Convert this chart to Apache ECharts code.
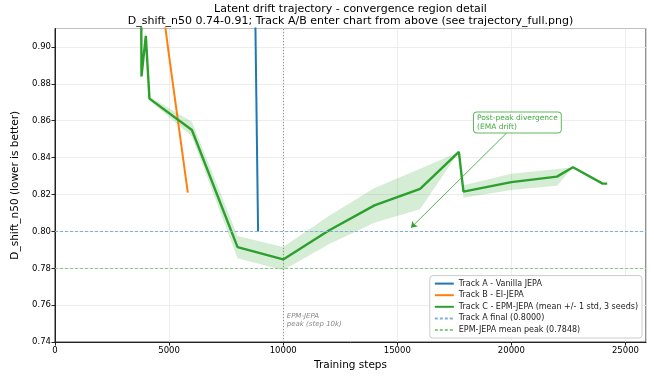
<!DOCTYPE html>
<html><head><meta charset="utf-8">
<script src="https://cdn.jsdelivr.net/npm/echarts@6/dist/echarts.min.js"></script>
<style>html,body{margin:0;padding:0;background:#fff}#c{width:654px;height:376px}</style>
</head><body><div id="c"></div>
<script>
// ---- data ----
const trackASteps = [8700, 8900];
const trackAValues = [0.990, 0.800];
const trackBSteps = [4000, 5000, 5820];
const trackBValues = [0.990, 0.895, 0.821];
const trackCSteps = [3770, 3790, 3980, 4140, 6000, 8000, 10000, 12000, 14000, 16000, 17700, 17900, 20000, 22000, 22700, 24000, 24200];
const trackCMean  = [0.950, 0.884, 0.906, 0.872, 0.855, 0.7915, 0.7848, 0.8005, 0.8141, 0.8231, 0.8431, 0.8216, 0.8267, 0.8297, 0.8348, 0.8259, 0.8259];
const bandSteps = [3790, 3980, 4140, 6000, 8000, 10000, 12000, 14000, 16000, 17700, 17900, 20000, 22000, 22700];
const bandUpper = [0.887, 0.909, 0.873, 0.8595, 0.7975, 0.7915, 0.8083, 0.8236, 0.8340, 0.8431, 0.8250, 0.8312, 0.8339, 0.8348];
const bandLower = [0.881, 0.903, 0.871, 0.8515, 0.7855, 0.7790, 0.7930, 0.8047, 0.8120, 0.8431, 0.8182, 0.8225, 0.8247, 0.8348];
const trackAFinal = 0.8000;
const epmPeak = 0.7848;
const epmPeakStep = 10000;
const xMin = 0, xMax = 25900, xInterval = 5000;
const yMin = 0.74, yMax = 0.91, yInterval = 0.02;
const arrowFrom = [19780, 0.8532];
const arrowTo = [15600, 0.802];
const boxAnchor = [18362, 0.8644];
const peakTextAnchor = [10155, 0.7562];

const names = ['Track A - Vanilla JEPA', 'Track B - EI-JEPA', 'Track C - EPM-JEPA (mean +/- 1 std, 3 seeds)', 'Track A final (0.8000)', 'EPM-JEPA mean peak (0.7848)'];
const FONT = 'DejaVu Sans';
const zip = (a, b) => a.map((v, i) => [v, b[i]]);
const blueFaint = '#7fb1d6';
const greenFaint = '#86cc86';

const chart = echarts.init(document.getElementById('c'), null, {renderer: 'canvas'});
chart.setOption({
  animation: false,
  backgroundColor: '#fff',
  title: {
    text: 'Latent drift trajectory - convergence region detail\nD_shift_n50 0.74-0.91; Track A/B enter chart from above (see trajectory_full.png)',
    left: 350.5, top: 3, textAlign: 'center', padding: 0,
    textStyle: {fontSize: 11, fontWeight: 'normal', fontFamily: FONT, color: '#000', lineHeight: 12}
  },
  grid: {left: 55, right: 8, top: 28.5, bottom: 33, show: true, borderColor: '#222', borderWidth: 1, containLabel: false},
  xAxis: {
    type: 'value', min: xMin, max: xMax, interval: xInterval,
    name: 'Training steps', nameLocation: 'middle', nameGap: 17,
    nameTextStyle: {fontSize: 10.5, fontFamily: FONT, color: '#000'},
    axisLine: {lineStyle: {color: '#222'}},
    axisTick: {show: true, length: 3.5, lineStyle: {color: '#222'}},
    axisLabel: {fontSize: 8.5, fontFamily: FONT, color: '#000', margin: 4, showMaxLabel: false, formatter: v => String(v)},
    splitLine: {show: true, lineStyle: {color: '#e8e8e8', width: 0.8}}
  },
  yAxis: {
    type: 'value', min: yMin, max: yMax, interval: yInterval,
    name: 'D_shift_n50 (lower is better)', nameLocation: 'middle', nameGap: 25, nameRotate: 90,
    nameTextStyle: {fontSize: 10.5, fontFamily: FONT, color: '#000'},
    axisLine: {show: true, lineStyle: {color: '#222'}},
    axisTick: {show: true, length: 3.5, lineStyle: {color: '#222'}},
    axisLabel: {fontSize: 8.5, fontFamily: FONT, color: '#000', margin: 4, showMaxLabel: false, formatter: v => v.toFixed(2)},
    splitLine: {show: true, lineStyle: {color: '#e8e8e8', width: 0.8}}
  },
  legend: {
    data: names, orient: 'vertical', right: 12, bottom: 38,
    itemWidth: 19, itemHeight: 8, itemGap: 3.6,
    itemStyle: {opacity: 0},
    textStyle: {fontSize: 8, fontFamily: FONT, color: '#222'},
    backgroundColor: '#fff', borderColor: '#ccc', borderWidth: 1, borderRadius: 3,
    padding: [4, 4, 4, 4]
  },
  series: [
    {
      type: 'custom', silent: true, clip: true, z: 1,
      data: [[bandSteps[0], bandUpper[0]]],
      renderItem: function (params, api) {
        const pts = [];
        for (let i = 0; i < bandSteps.length; i++) pts.push(api.coord([bandSteps[i], bandUpper[i]]));
        for (let i = bandSteps.length - 1; i >= 0; i--) pts.push(api.coord([bandSteps[i], bandLower[i]]));
        return {type: 'polygon', shape: {points: pts}, style: {fill: 'rgba(44,160,44,0.2)', stroke: null}};
      }
    },
    {
      name: names[3], type: 'line', symbol: 'none', z: 2, data: [],
      lineStyle: {color: blueFaint, width: 1, type: [3, 2]},
      itemStyle: {color: blueFaint},
      markLine: {
        silent: true, animation: false, symbol: ['none', 'none'], label: {show: false},
        lineStyle: {color: blueFaint, width: 1, type: [3, 2], opacity: 1},
        emphasis: {disabled: true},
        data: [{yAxis: trackAFinal}]
      }
    },
    {
      name: names[4], type: 'line', symbol: 'none', z: 2, data: [],
      lineStyle: {color: greenFaint, width: 1, type: [3, 2]},
      itemStyle: {color: greenFaint},
      markLine: {
        silent: true, animation: false, symbol: ['none', 'none'], label: {show: false},
        lineStyle: {color: greenFaint, width: 1, type: [3, 2], opacity: 1},
        emphasis: {disabled: true},
        data: [{yAxis: epmPeak}]
      }
    },
    {
      name: names[0], type: 'line', symbol: 'none', z: 3,
      data: zip(trackASteps, trackAValues),
      lineStyle: {color: '#1f77b4', width: 2}, itemStyle: {color: '#1f77b4'}
    },
    {
      name: names[1], type: 'line', symbol: 'none', z: 3,
      data: zip(trackBSteps, trackBValues),
      lineStyle: {color: '#ff7f0e', width: 2}, itemStyle: {color: '#ff7f0e'}
    },
    {
      name: names[2], type: 'line', symbol: 'none', z: 4,
      data: zip(trackCSteps, trackCMean),
      lineStyle: {color: '#2ca02c', width: 2.4}, itemStyle: {color: '#2ca02c'},
      markLine: {
        silent: true, animation: false,
        label: {show: false},
        data: [
          [{xAxis: epmPeakStep, yAxis: yMin, symbol: 'none', lineStyle: {color: '#888', width: 1, type: [1, 2]}},
           {xAxis: epmPeakStep, yAxis: yMax, symbol: 'none'}],
          [{coord: arrowFrom, symbol: 'none', lineStyle: {color: '#2ca02c', width: 0.8, type: 'solid'}},
           {coord: arrowTo, symbol: 'arrow', symbolSize: 6}]
        ]
      },
      markPoint: {
        silent: true, animation: false,
        symbol: 'circle', symbolSize: 0,
        data: [
          {coord: boxAnchor, label: {show: true, position: [0, 0], align: 'left', verticalAlign: 'top',
            formatter: 'Post-peak divergence\n(EMA drift)', color: 'rgba(44,160,44,0.9)', fontSize: 7.5, fontFamily: FONT,
            lineHeight: 9, backgroundColor: '#fff', borderColor: 'rgba(44,160,44,0.75)', borderWidth: 1, borderRadius: 3,
            padding: [1, 3, 1, 3]}},
          {coord: peakTextAnchor, label: {show: true, position: [0, 0], align: 'left', verticalAlign: 'top',
            formatter: 'EPM-JEPA\npeak (step 10k)', color: '#888', fontSize: 7, fontStyle: 'italic', fontFamily: FONT, lineHeight: 8}}
        ]
      }
    }
  ]
});
</script>
</body></html>
